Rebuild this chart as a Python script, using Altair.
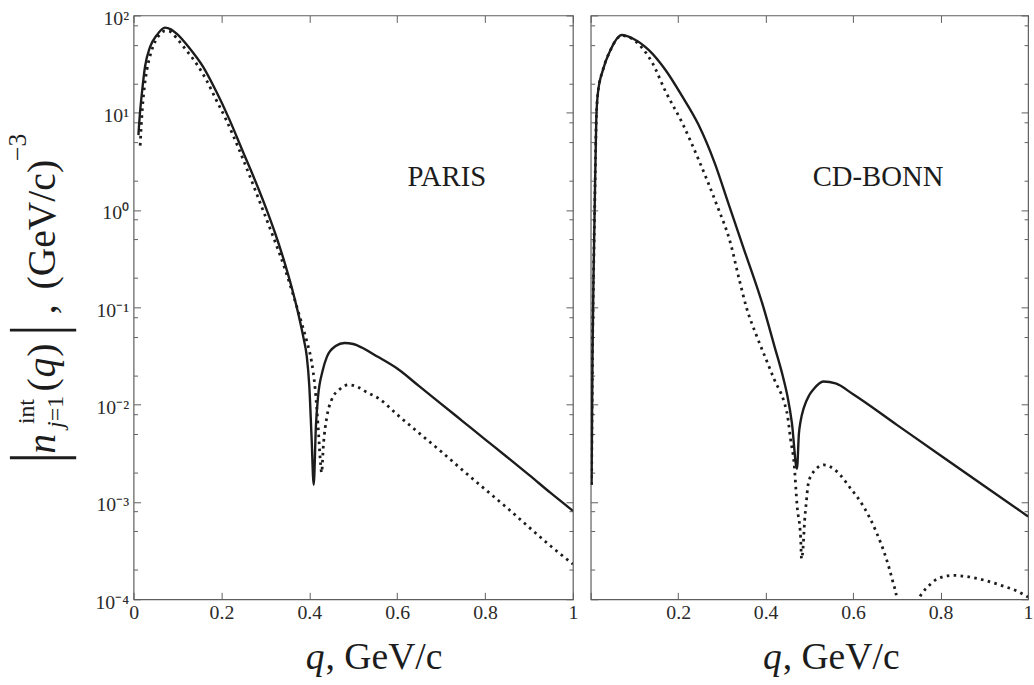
import math
import altair as alt
import pandas as pd

# ---- momentum distributions |n_{j=1}^{int}(q)|, (GeV/c)^-3 ----
# PARIS potential
paris_solid_q = [0.011, 0.015, 0.019, 0.026, 0.0376, 0.0526, 0.0714, 0.085, 0.098, 0.128,
                 0.158, 0.188, 0.218, 0.248, 0.278, 0.304, 0.323, 0.345, 0.36, 0.375,
                 0.387, 0.394, 0.40, 0.405, 0.41, 0.415, 0.42, 0.43, 0.44, 0.46,
                 0.48, 0.50, 0.51, 0.556, 0.60, 0.65, 0.70, 0.75, 0.80, 0.85,
                 0.90, 0.95, 1.0]
paris_solid_n = [5.9, 10.5, 16, 29.7, 47.6, 62.5, 75, 72, 65, 45.7,
                 29.8, 16.6, 8.55, 4.07, 1.94, 0.975, 0.564, 0.277, 0.16, 0.0857,
                 0.048, 0.032, 0.0155, 0.0048, 0.0015, 0.006, 0.0122, 0.022, 0.031, 0.040,
                 0.043, 0.042, 0.0405, 0.031, 0.0235, 0.0155, 0.0102, 0.0067, 0.0044, 0.0029,
                 0.0019, 0.00123, 0.00081]

paris_dot_q = [0.015, 0.02, 0.025, 0.03, 0.04, 0.05, 0.06, 0.07, 0.08, 0.09,
               0.105, 0.12, 0.143, 0.165, 0.188, 0.21, 0.24, 0.265, 0.293, 0.32,
               0.345, 0.36, 0.375, 0.387, 0.396, 0.405, 0.413, 0.42, 0.425, 0.428,
               0.432, 0.44, 0.45, 0.47, 0.49, 0.51, 0.53, 0.559, 0.60, 0.65,
               0.70, 0.75, 0.80, 0.85, 0.90, 0.95, 1.0]
paris_dot_n = [4.6, 11, 19, 27, 42, 55, 64, 69, 69, 64,
               53.5, 44, 32, 22, 13.6, 8.6, 4.2, 2.2, 1.04, 0.5,
               0.245, 0.15, 0.09, 0.059, 0.042, 0.028, 0.015, 0.006, 0.0027, 0.002,
               0.0038, 0.0075, 0.011, 0.0145, 0.016, 0.0152, 0.0135, 0.0115, 0.0079, 0.0051,
               0.0033, 0.0021, 0.00135, 0.00087, 0.00055, 0.00035, 0.00023]

# CD-BONN potential
bonn_solid_q = [0.002, 0.004, 0.007, 0.009, 0.0127, 0.0165, 0.028, 0.043, 0.0715, 0.096,
                0.133, 0.171, 0.209, 0.246, 0.284, 0.314, 0.35, 0.395, 0.42, 0.44,
                0.45, 0.46, 0.4716, 0.476, 0.48, 0.487, 0.4995, 0.51, 0.532, 0.56,
                0.60, 0.70, 0.80, 0.90, 1.0]
bonn_solid_n = [0.0015, 0.03, 0.3, 1.0, 8.5, 16, 27.6, 42, 63, 58,
                44, 27.5, 14.8, 7.6, 3.0, 1.2, 0.4, 0.1, 0.04, 0.019,
                0.0121, 0.0065, 0.0022, 0.0050, 0.0068, 0.0092, 0.0125, 0.0145, 0.0173, 0.0165,
                0.0128, 0.0062, 0.0030, 0.00146, 0.00071]

bonn_dot_q = [0.002, 0.004, 0.007, 0.009, 0.0127, 0.0165, 0.028, 0.043, 0.0715, 0.096,
              0.12, 0.141, 0.171, 0.209, 0.246, 0.287, 0.32, 0.34, 0.356, 0.38,
              0.40, 0.42, 0.442, 0.45, 0.457, 0.465, 0.472, 0.48, 0.482, 0.486,
              0.489, 0.493, 0.497, 0.508, 0.533, 0.563, 0.593, 0.623, 0.653, 0.676,
              0.691, 0.70, 0.71, 0.74, 0.751, 0.759, 0.77, 0.793, 0.827, 0.857,
              0.902, 0.94, 0.977, 1.0]
bonn_dot_n = [0.0015, 0.03, 0.3, 1.0, 8.5, 16, 27.6, 42, 62, 57,
              45, 32.5, 16.6, 7.9, 3.35, 1.17, 0.45, 0.19, 0.1, 0.05,
              0.03, 0.018, 0.0107, 0.0077, 0.0044, 0.0025, 0.0009, 0.00043, 0.00026, 0.00036,
              0.00063, 0.001, 0.0015, 0.002, 0.0024, 0.00205, 0.0014, 0.00091, 0.00049, 0.00026,
              0.00015, 0.0001, 0.00003, 0.00003, 0.0001, 0.000117, 0.000133, 0.000162, 0.000176, 0.000172,
              0.000156, 0.000138, 0.00012, 0.000105]

panel_names = ["PARIS", "CD-BONN"]
panel_tag_q = [0.713, 0.657]
panel_tag_n = [2.2, 2.2]

x_ticks = [0, 0.2, 0.4, 0.6, 0.8, 1.0]
y_major = [1e-4, 1e-3, 1e-2, 1e-1, 1.0, 10.0, 100.0]
y_major_labels = ["10⁻⁴", "10⁻³", "10⁻²", "10⁻¹", "10⁰", "10¹", "10²"]
y_minor = [m * 10.0 ** e for e in range(-4, 2) for m in (2, 5, 8)]

INK = "#1c1c1c"
FRAME = "#5e5e5e"
LABEL = "#2a2a2a"
SERIF = "Liberation Serif"

# decade labels written with superscript exponents
y_expr = "''"
for v, lab in reversed(list(zip(y_major, y_major_labels))):
    y_expr = f"abs(log(datum.value)/LN10 - ({math.log10(v):.0f})) < 0.01 ? '{lab}' : {y_expr}"


def axis(orient, values, size, labels=False, **kw):
    # ticks point into the frame: shift the axis inwards by its tick length
    return alt.Axis(orient=orient, values=values, tickSize=size, offset=-size,
                    domain=False, grid=False, labels=labels, title=None,
                    tickColor=FRAME, tickWidth=1, labelFont=SERIF, labelFontSize=20,
                    labelColor=LABEL, **kw)


one = pd.DataFrame({"k": [0]})


def text_piece(txt, x, y, size, italic=False, angle=0):
    return alt.Chart(one).mark_text(
        text=txt, font=SERIF, fontSize=size, fontStyle="italic" if italic else "normal",
        color=INK, align="left", baseline="alphabetic", angle=angle,
    ).encode(x=alt.value(x), y=alt.value(y))


def bar(y):
    return alt.Chart(one).mark_rule(color=INK, strokeWidth=3).encode(
        x=alt.value(-125), x2=alt.value(-58), y=alt.value(y))


def panel(sq, sn, dq, dn, name, tq, tn, left):
    xs = alt.Scale(domain=[0, 1], nice=False, zero=False)
    ys = alt.Scale(type="log", domain=[1e-4, 100], nice=False)
    solid_df = pd.DataFrame({"q": sq, "n": sn})
    dot_df = pd.DataFrame({"q": dq, "n": dn})
    x_lab = "datum.label" if left else "datum.value == 0 ? '' : datum.label"

    solid = alt.Chart(solid_df).mark_line(color=INK, strokeWidth=2.4, clip=True,
                                          interpolate="monotone").encode(
        x=alt.X("q:Q", scale=xs, axis=axis("bottom", x_ticks, 7, labels=True, format="~g",
                                            labelExpr=x_lab, labelPadding=3,
                                            labelFlush=False, labelBaseline="top")),
        y=alt.Y("n:Q", scale=ys, axis=axis("left", y_major, 7, labels=left, labelExpr=y_expr,
                                            labelPadding=5, labelOffset=3,
                                            labelBaseline="middle")),
    )
    dotted = alt.Chart(dot_df).mark_line(color=INK, strokeWidth=2.8, strokeDash=[2.6, 4.4],
                                         strokeCap="butt", clip=True,
                                         interpolate="monotone").encode(
        x=alt.X("q:Q", scale=xs, axis=axis("top", x_ticks, 7)),
        y=alt.Y("n:Q", scale=ys, axis=axis("left", y_minor, 4)),
    )
    right_major = alt.Chart(solid_df).mark_line(opacity=0).encode(
        x=alt.X("q:Q", scale=xs, axis=None),
        y=alt.Y("n:Q", scale=ys, axis=axis("right", y_major, 7)),
    )
    right_minor = alt.Chart(solid_df).mark_line(opacity=0).encode(
        x=alt.X("q:Q", scale=xs, axis=None),
        y=alt.Y("n:Q", scale=ys, axis=axis("right", y_minor, 4)),
    )
    tag = alt.Chart(pd.DataFrame({"q": [tq], "n": [tn]})).mark_text(
        text=name, font=SERIF, fontSize=29, color=INK, align="center", baseline="middle"
    ).encode(x=alt.X("q:Q", scale=xs, axis=None), y=alt.Y("n:Q", scale=ys, axis=None))

    layers = [solid, dotted, right_major, right_minor, tag,
              text_piece("q", 174, 660, 38, italic=True),
              text_piece(", GeV/c", 194, 660, 38)]
    if left:
        layers += [
            bar(318), bar(447),
            text_piece("n", -79, 443, 40, italic=True, angle=270),
            text_piece("int", -101, 413, 24, angle=270),
            text_piece("j", -71, 417, 24, italic=True, angle=270),
            text_piece("=1", -71, 410, 24, angle=270),
            text_piece("(", -79, 380, 40, angle=270),
            text_piece("q", -79, 366, 40, italic=True, angle=270),
            text_piece(")", -79, 345, 40, angle=270),
            text_piece(",", -79, 302, 40, angle=270),
            text_piece("(GeV/c)", -79, 277, 40, angle=270),
            text_piece("−3", -109, 147, 26, angle=270),
        ]
    return alt.layer(*layers).resolve_axis(x="independent", y="independent").properties(
        width=444 if left else 442, height=590)


left_panel = panel(paris_solid_q, paris_solid_n, paris_dot_q, paris_dot_n,
                   panel_names[0], panel_tag_q[0], panel_tag_n[0], True)
right_panel = panel(bonn_solid_q, bonn_solid_n, bonn_dot_q, bonn_dot_n,
                    panel_names[1], panel_tag_q[1], panel_tag_n[1], False)

chart = alt.hconcat(left_panel, right_panel, spacing=10).configure_view(
    stroke=FRAME, strokeWidth=1.2
).properties(padding={"left": 4, "top": 4, "right": 0, "bottom": 0}, background="white")

chart.save("out.html", embed_options={"renderer": "svg", "actions": False})
